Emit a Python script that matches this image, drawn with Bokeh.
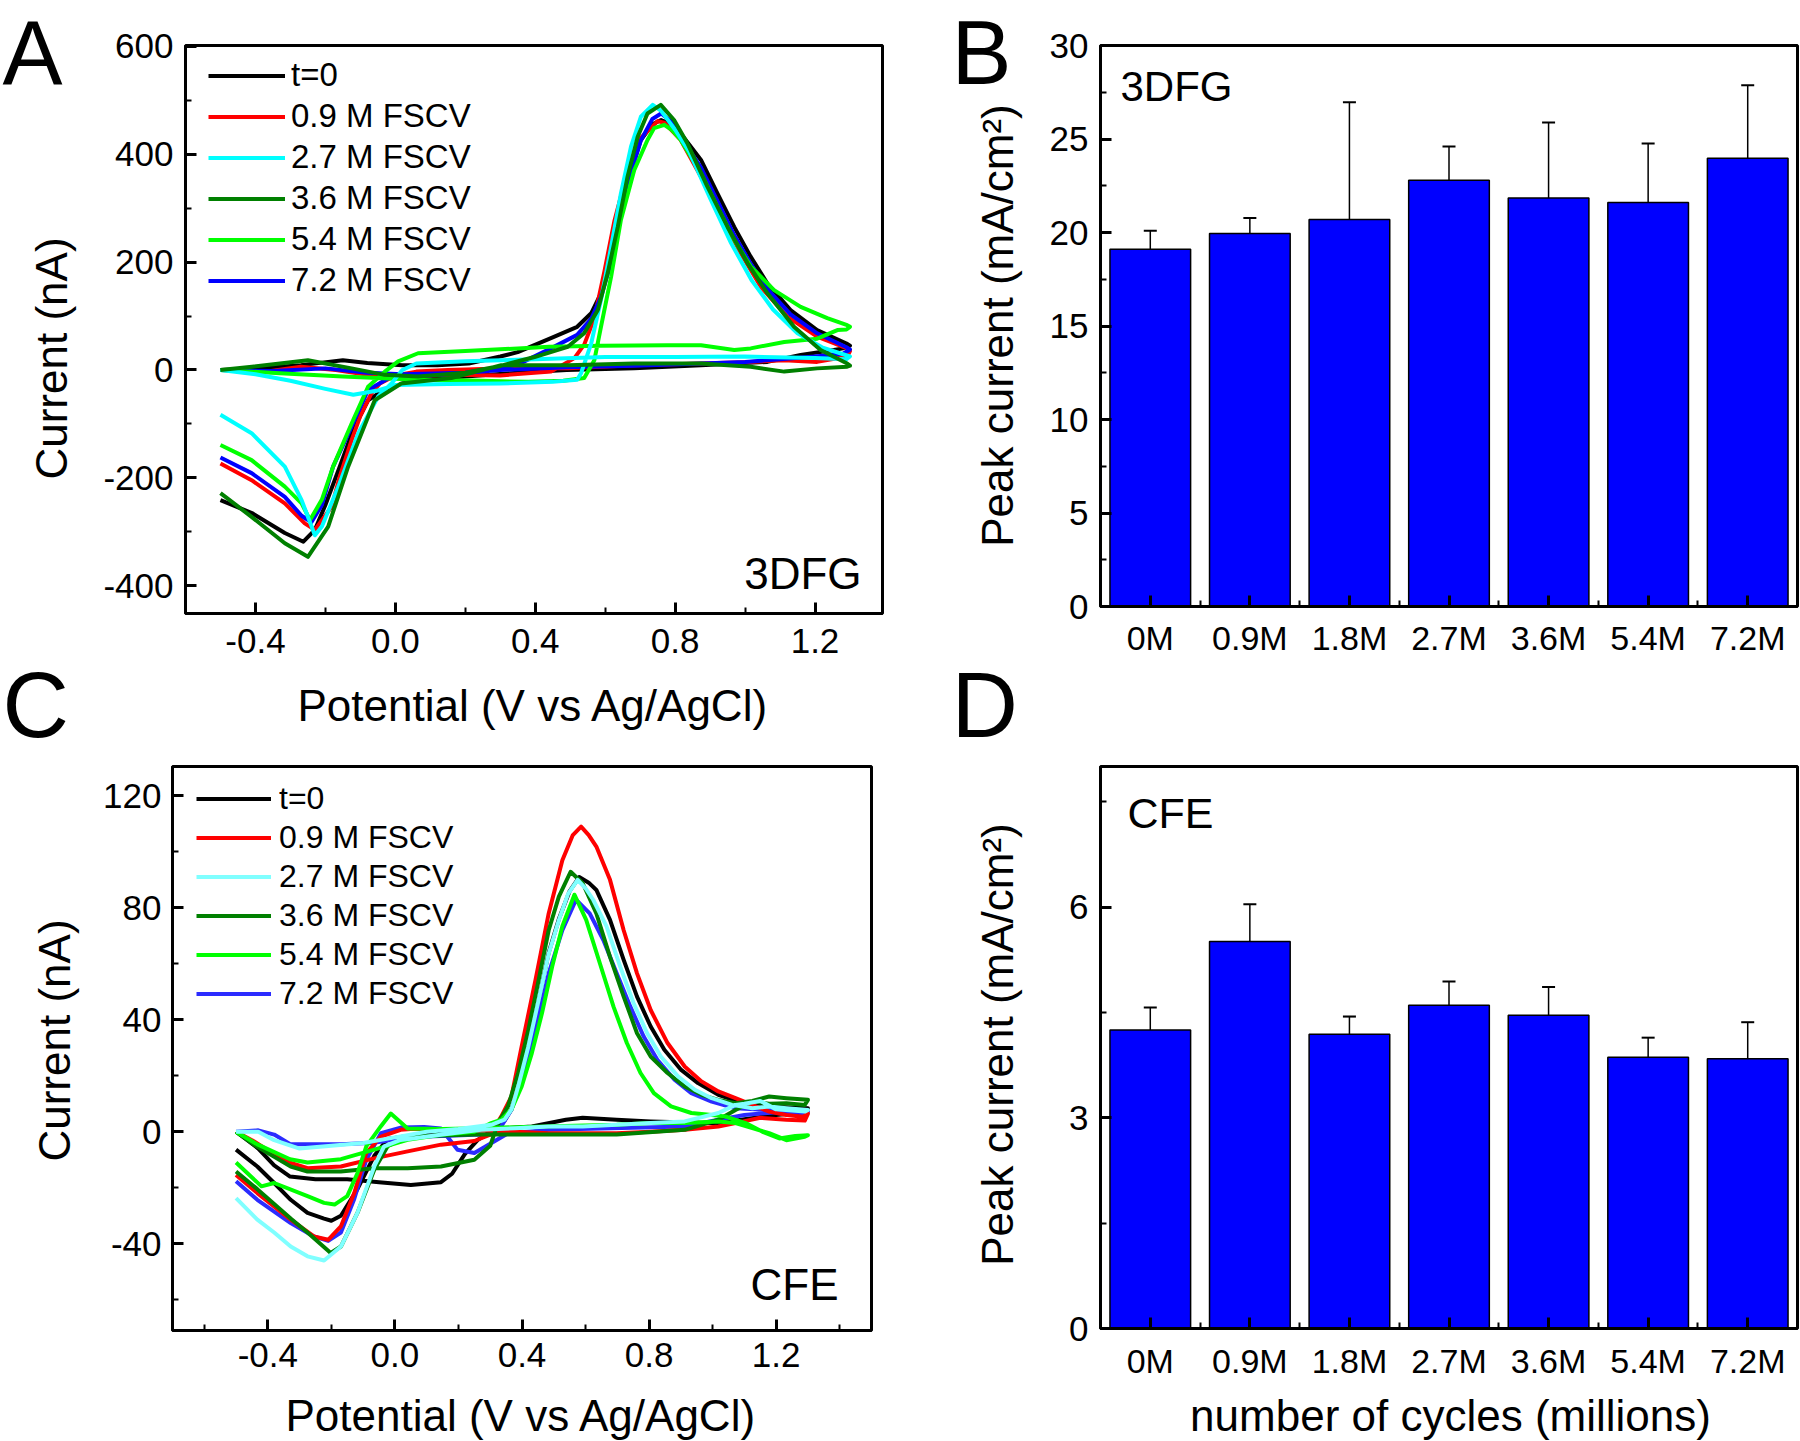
from math import pi
from bokeh.plotting import figure
from bokeh.models import (Range1d, FixedTicker, PrintfTickFormatter, Legend, LegendItem,
                          Label, Whisker, TeeHead, ColumnDataSource)
from bokeh.layouts import row, column
from bokeh.embed import file_html
from bokeh.resources import INLINE

FONT = "Liberation Sans"

# ------------------------------------------------------------------ data
series_labels = ["t=0", "0.9 M FSCV", "2.7 M FSCV", "3.6 M FSCV", "5.4 M FSCV", "7.2 M FSCV"]
a_colors = ["#000000", "#FF0000", "#00FFFF", "#008000", "#00FF00", "#0000FF"]
c_colors = ["#000000", "#FF0000", "#80FFFF", "#008000", "#00FF00", "#2B2BFF"]

# Panel A (3DFG) cyclic voltammograms: potential (V) / current (nA)
a_t0_v = [-0.50, -0.40, -0.27, -0.15, -0.08, 0.02, 0.12, 0.21, 0.30, 0.35, 0.445, 0.52, 0.56, 0.588, 0.617,
          0.645, 0.674, 0.702, 0.735, 0.76, 0.79, 0.816, 0.874, 0.921, 0.969, 1.016, 1.064, 1.13, 1.206, 1.29, 1.30,
          1.28, 1.254, 1.159, 1.064, 0.874, 0.683, 0.49, 0.35, 0.20, 0.08, 0.02, -0.04, -0.078, -0.12, -0.159,
          -0.20, -0.23, -0.263, -0.316, -0.41, -0.50]
a_t0_i = [0, 3, 9, 18, 13, 9, 9, 12, 25, 33, 59, 80, 105, 142, 204, 290, 370, 426, 455, 463, 455, 438, 389, 327,
          265, 210, 160, 111, 74, 49, 45,
          40, 37, 28, 15, 9, 3, 0, -5, -12, -18, -25, -40, -56, -110, -179, -250, -296, -318, -302, -265, -241]

a_09_v = [-0.50, -0.37, -0.27, -0.17, -0.08, 0.02, 0.16, 0.30, 0.445, 0.512, 0.54, 0.569, 0.598, 0.626, 0.664,
          0.702, 0.75, 0.769, 0.816, 0.874, 0.931, 0.988, 1.045, 1.121, 1.206, 1.292, 1.30,
          1.292, 1.206, 1.112, 1.016, 0.874, 0.683, 0.493, 0.30, 0.15, 0.06, 0.0, -0.044, -0.068, -0.10, -0.125,
          -0.16, -0.182, -0.23, -0.259, -0.316, -0.411, -0.50]
a_09_i = [0, -3, 6, 0, -9, -12, -9, -10, -3, 22, 47, 96, 183, 275, 368, 430, 461, 458, 426, 358, 284, 216, 154,
          99, 62, 40, 35,
          25, 15, 18, 15, 12, 9, 3, 3, 0, -3, -10, -25, -43, -85, -130, -200, -253, -296, -284, -247, -204, -173]

a_27_v = [-0.50, -0.40, -0.30, -0.20, -0.12, -0.05, 0.0, 0.15, 0.30, 0.45, 0.52, 0.531, 0.56, 0.588, 0.617,
          0.645, 0.674, 0.702, 0.736, 0.76, 0.80, 0.84, 0.90, 0.96, 1.02, 1.08, 1.15, 1.22, 1.30,
          1.29, 1.20, 1.0, 0.8, 0.6, 0.4, 0.2, 0.06, 0.02, -0.011, -0.049, -0.106, -0.163, -0.21, -0.23,
          -0.268, -0.316, -0.411, -0.50]
a_27_i = [0, -8, -20, -35, -46, -38, -28, -26, -25, -22, -18, -6, 49, 130, 228, 327, 414, 469, 491, 480, 445,
          405, 318, 235, 165, 112, 68, 42, 25,
          20, 22, 25, 24, 24, 20, 16, 12, 0, -25, -49, -117, -216, -290, -306, -241, -179, -117, -83]

a_36_v = [-0.50, -0.41, -0.25, -0.125, -0.03, 0.065, 0.20, 0.303, 0.398, 0.493, 0.54, 0.579, 0.607, 0.636,
          0.664, 0.693, 0.721, 0.759, 0.797, 0.835, 0.892, 0.95, 1.007, 1.064, 1.14, 1.216, 1.292, 1.30,
          1.292, 1.206, 1.112, 1.016, 0.874, 0.683, 0.493, 0.303, 0.16, 0.017, -0.059, -0.135, -0.192, -0.25,
          -0.316, -0.411, -0.50]
a_36_i = [0, 6, 18, 3, -9, -12, -5, 8, 24, 43, 68, 111, 179, 265, 358, 432, 475, 491, 463, 420, 340, 265, 198,
          142, 80, 37, 12, 8,
          6, 3, -3, 6, 12, 12, 9, 9, -15, -25, -56, -179, -290, -346, -321, -272, -228]

a_54_v = [-0.50, -0.33, -0.15, 0.065, 0.25, 0.38, 0.48, 0.54, 0.569, 0.588, 0.617, 0.645, 0.683, 0.721, 0.74,
          0.769, 0.79, 0.816, 0.874, 0.921, 0.969, 1.016, 1.083, 1.159, 1.235, 1.292, 1.30,
          1.29, 1.264, 1.206, 1.112, 1.016, 0.969, 0.874, 0.778, 0.588, 0.44, 0.35, 0.20, 0.065, 0.008, -0.03,
          -0.078, -0.125, -0.178, -0.21, -0.244, -0.268, -0.316, -0.411, -0.50]
a_54_i = [0, -6, -12, -18, -20, -22, -20, -15, 18, 80, 173, 278, 370, 426, 448, 454, 445, 426, 364, 302, 241,
          192, 148, 117, 96, 83, 80,
          75, 74, 58, 52, 40, 37, 46, 46, 45, 43, 40, 35, 31, 16, -3, -31, -99, -179, -240, -278, -247, -216,
          -167, -139]

a_72_v = [-0.50, -0.35, -0.20, -0.08, 0.02, 0.20, 0.35, 0.445, 0.52, 0.56, 0.588, 0.617, 0.645, 0.674, 0.702,
          0.735, 0.76, 0.79, 0.816, 0.874, 0.921, 0.969, 1.016, 1.064, 1.13, 1.206, 1.29, 1.30,
          1.28, 1.20, 1.10, 1.0, 0.874, 0.683, 0.49, 0.30, 0.15, 0.05, -0.011, -0.078, -0.125, -0.178, -0.21,
          -0.24, -0.268, -0.316, -0.411, -0.50]
a_72_i = [0, -2, 3, -5, -8, -5, 10, 40, 65, 95, 135, 200, 285, 365, 425, 465, 475, 460, 432, 375, 313, 250,
          197, 150, 103, 68, 42, 38,
          30, 25, 20, 15, 12, 8, 5, 0, -8, -12, -12, -37, -105, -179, -250, -282, -270, -235, -191, -162]

# Panel C (CFE) cyclic voltammograms
c_t0_v = [-0.50, -0.43, -0.38, -0.33, -0.25, -0.15, -0.05, 0.05, 0.145, 0.18, 0.22, 0.26, 0.30, 0.345, 0.367,
          0.388, 0.42, 0.452, 0.484, 0.516, 0.55, 0.58, 0.61, 0.634, 0.677, 0.72, 0.762, 0.805, 0.848, 0.901,
          0.954, 1.018, 1.082, 1.178, 1.30,
          1.29, 1.20, 1.10, 1.018, 0.805, 0.698, 0.591, 0.538, 0.431, 0.27, 0.15, 0.04, -0.023, -0.065, -0.118,
          -0.17, -0.20, -0.223, -0.275, -0.328, -0.38, -0.433, -0.50]
c_t0_i = [0, -6, -12, -16, -17, -17, -18, -19, -18, -15, -8, -3, 0, 4, 8, 16, 30.5, 47, 64, 76, 86, 91, 89,
          86.4, 75.7, 61.4, 48.3, 37.6, 29.3, 22.1, 17.4, 13.2, 10.8, 9, 8.4,
          7, 6, 4.5, 3, 3.7, 4.3, 5, 4.3, 1.9, 0.7, 0, -1.5, -2.6, -8.6, -20.5, -30, -31.8, -31, -29, -24.3,
          -18.3, -12.4, -6.4]

c_09_v = [-0.50, -0.45, -0.38, -0.33, -0.275, -0.17, -0.065, 0.04, 0.145, 0.25, 0.30, 0.335, 0.367, 0.399,
          0.442, 0.484, 0.527, 0.56, 0.586, 0.61, 0.634, 0.677, 0.72, 0.762, 0.805, 0.858, 0.912, 0.965, 1.018,
          1.072, 1.125, 1.178, 1.232, 1.285, 1.30,
          1.29, 1.232, 1.15, 1.072, 1.018, 0.912, 0.805, 0.698, 0.591, 0.484, 0.378, 0.25, 0.15, 0.05, 0.018,
          -0.044, -0.09, -0.128, -0.17, -0.21, -0.255, -0.328, -0.433, -0.50]
c_09_i = [0, -3, -8, -11, -13, -12.4, -9.5, -7, -4.6, -3.3, -1, 5.5, 12.6, 30.5, 54, 78, 97, 106, 109, 106,
          101.9, 90, 72, 56.6, 43.5, 31.7, 23.3, 18, 14.4, 12, 9.6, 7.2, 6, 5.4, 6.5,
          4, 4.3, 5, 3.1, 1.9, 0.7, 0, -0.5, -0.5, -0.5, 0, 0.5, 1, 1, 0.7, -1.7, -7.6, -21.9, -33.8, -38.6,
          -37.4, -31.4, -21.9, -15.4]

c_27_v = [-0.50, -0.43, -0.38, -0.30, -0.20, -0.10, 0.0, 0.10, 0.20, 0.303, 0.345, 0.367, 0.388, 0.42, 0.452,
          0.484, 0.516, 0.545, 0.575, 0.60, 0.624, 0.666, 0.709, 0.751, 0.794, 0.837, 0.891, 0.944, 0.997,
          1.061, 1.125, 1.178, 1.232, 1.30,
          1.29, 1.20, 1.15, 1.10, 1.072, 1.018, 0.912, 0.805, 0.698, 0.591, 0.484, 0.378, 0.271, 0.15, 0.05,
          0.018, -0.034, -0.065, -0.118, -0.17, -0.223, -0.275, -0.328, -0.38, -0.433, -0.50]
c_27_i = [0, 0, -3, -6, -5, -4, -2, 0, 1, 2.5, 4.3, 8, 16.2, 30.5, 46.9, 63.6, 75.6, 85, 90, 87, 82.9, 73.4,
          59, 46, 35.2, 26.9, 19.8, 15, 12, 9.6, 8.4, 9, 8.4, 7.8,
          7.2, 8, 11, 10, 9.6, 6.7, 3.7, 3.1, 2.5, 1.9, 1.9, 1.3, 0.7, -1, -2.5, -2.9, -5.2, -12.4, -29, -41,
          -46, -44.5, -41, -36, -31.4, -23.7]

c_36_v = [-0.50, -0.433, -0.328, -0.275, -0.17, -0.065, 0.04, 0.145, 0.25, 0.30, 0.324, 0.356, 0.388, 0.42,
          0.452, 0.484, 0.516, 0.553, 0.591, 0.634, 0.677, 0.72, 0.762, 0.805, 0.858, 0.912, 0.965, 1.018,
          1.072, 1.125, 1.178, 1.232, 1.30,
          1.29, 1.232, 1.178, 1.125, 1.072, 1.018, 0.912, 0.698, 0.484, 0.25, 0.10, 0.04, -0.023, -0.065,
          -0.118, -0.17, -0.202, -0.275, -0.328, -0.433, -0.50]
c_36_i = [0, -5.4, -12.4, -14.2, -14.2, -13, -13, -12.4, -10, -5, 3, 9.1, 21, 36.4, 54, 72, 84, 92.9, 88.8,
          78, 62.5, 48.3, 35.2, 26.9, 21, 16.2, 13.2, 11.4, 10.2, 11, 12.6, 12, 11.4,
          9.6, 10.2, 10, 10.8, 7.8, 4.3, 0.7, -1, -1, -1, -1.5, -1.7, -5.2, -13.6, -29, -41, -43.3, -36, -31,
          -20.5, -14.2]

c_54_v = [-0.50, -0.433, -0.33, -0.275, -0.17, -0.065, 0.04, 0.145, 0.25, 0.303, 0.335, 0.367, 0.399, 0.431,
          0.463, 0.495, 0.527, 0.565, 0.602, 0.645, 0.688, 0.73, 0.773, 0.815, 0.869, 0.933, 0.997, 1.039,
          1.104, 1.157, 1.21, 1.26, 1.30,
          1.29, 1.232, 1.178, 1.125, 1.072, 1.018, 0.912, 0.805, 0.698, 0.50, 0.27, 0.15, 0.04, -0.013, -0.044,
          -0.09, -0.118, -0.15, -0.19, -0.223, -0.275, -0.38, -0.42, -0.50]
c_54_i = [0, -4.5, -9.8, -11, -9.8, -6.4, -2.9, -1.1, 0, 3.1, 4.3, 8, 16.2, 28.1, 42.4, 59, 73.4, 84.7, 75.7,
          60.2, 44.7, 31.7, 21, 13.8, 9.1, 6.7, 6, 5.5, 3.1, 0, -2.4, -1.5, -1.2,
          -1.8, -3, -0.5, 1.3, 3.1, 3.7, 3.1, 3.1, 2.5, 2, 1.3, 1, 1.2, 6.5, 2, -5.2, -14.8, -23, -26, -25.4,
          -23, -18.3, -19.5, -11]

c_72_v = [-0.50, -0.43, -0.38, -0.328, -0.17, -0.065, 0.04, 0.25, 0.30, 0.335, 0.367, 0.399, 0.442, 0.484,
          0.527, 0.57, 0.613, 0.656, 0.698, 0.741, 0.783, 0.826, 0.88, 0.933, 0.997, 1.072, 1.178, 1.30,
          1.29, 1.20, 1.10, 1.018, 0.912, 0.484, 0.355, 0.30, 0.25, 0.197, 0.145, 0.092, 0.018, -0.044, -0.09,
          -0.128, -0.17, -0.21, -0.255, -0.328, -0.433, -0.50]
c_72_i = [0, 0.5, -1, -4.5, -4.5, -3.9, -2, -1.1, -1, 2, 8, 18.6, 36.4, 56.6, 72, 82.9, 78, 68.5, 56.6, 44.7,
          34, 25.7, 18.6, 13.8, 10.8, 8.4, 7.8, 7.2,
          6.7, 7, 6, 4.3, 1.9, 0.7, -0.6, -4.3, -7.6, -6.4, 1.2, 1.7, 1.5, -0.5, -10, -24, -36, -39, -37.4,
          -32.6, -24.3, -17.7]

# Bar panels (peak current, mA/cm^2)
cycles = ["0M", "0.9M", "1.8M", "2.7M", "3.6M", "5.4M", "7.2M"]
b_mean = [19.1, 19.95, 20.7, 22.8, 21.85, 21.6, 23.97]
b_err = [1.0, 0.83, 6.27, 1.8, 4.03, 3.16, 3.91]
d_mean = [4.25, 5.51, 4.19, 4.60, 4.46, 3.86, 3.84]
d_err = [0.32, 0.53, 0.25, 0.34, 0.40, 0.28, 0.52]

# ticks
a_xticks = [-0.4, 0.0, 0.4, 0.8, 1.2]
a_xminor = [-0.6, -0.2, 0.2, 0.6, 1.0]
a_yticks = [-400, -200, 0, 200, 400, 600]
a_yminor = [-300, -100, 100, 300, 500]
c_xticks = [-0.4, 0.0, 0.4, 0.8, 1.2]
c_xminor = [-0.6, -0.2, 0.2, 0.6, 1.0, 1.4]
c_yticks = [-40, 0, 40, 80, 120]
c_yminor = [-60, -20, 20, 60, 100]
b_yticks = [0, 5, 10, 15, 20, 25, 30]
b_yminor = [2.5, 7.5, 12.5, 17.5, 22.5, 27.5]
d_yticks = [0, 3, 6]
d_yminor = [1.5, 4.5, 7.5]

# ------------------------------------------------------------------ helpers

def no_align(p):
    if "frame_align" in p.properties():
        p.frame_align = False


def make_fig(w, h, bl, br, bt, bb, xr, yr):
    p = figure(width=w, height=h, x_range=Range1d(*xr), y_range=Range1d(*yr),
               min_border_left=bl, min_border_right=br, min_border_top=bt, min_border_bottom=bb,
               output_backend="svg", toolbar_location=None)
    no_align(p)
    p.background_fill_color = "white"
    p.border_fill_color = "white"
    p.xgrid.visible = False
    p.ygrid.visible = False
    p.outline_line_color = "black"
    p.outline_line_width = 3
    p.outline_line_alpha = 1.0
    for ax in list(p.xaxis) + list(p.yaxis):
        ax.axis_line_width = 3
        ax.axis_line_color = "black"
        ax.major_tick_line_width = 3
        ax.minor_tick_line_width = 2
        ax.major_tick_in = 11
        ax.major_tick_out = 0
        ax.minor_tick_in = 6
        ax.minor_tick_out = 0
        ax.major_label_text_font = FONT
        ax.major_label_text_font_size = "35px"
        ax.major_label_text_color = "black"
    return p


def make_strip(x0, x1, y0, y1):
    # blank canvas whose data coordinates equal page pixels (y grows downward)
    p = figure(width=x1 - x0, height=y1 - y0, x_range=Range1d(x0, x1), y_range=Range1d(y1, y0),
               min_border=0, min_border_left=0, min_border_right=0, min_border_top=0, min_border_bottom=0,
               x_axis_location=None, y_axis_location=None, output_backend="svg", toolbar_location=None)
    no_align(p)
    p.outline_line_color = None
    p.xgrid.visible = False
    p.ygrid.visible = False
    p.background_fill_color = "white"
    p.border_fill_color = "white"
    return p


def put(p, x, y, txt, size, align="left", angle=0.0):
    # (x, y) is the centre line of the text (middle baseline)
    p.add_layout(Label(x=x, y=y, text=txt, text_font=FONT, text_font_size=size, angle=angle,
                       text_align=align, text_baseline="middle", text_color="black"))


def mapper(frame, xr, yr):
    left, top, right, bottom = frame

    def f(rx, ry):
        x = xr[0] + (rx - left) / (right - left) * (xr[1] - xr[0])
        y = yr[1] - (ry - top) / (bottom - top) * (yr[1] - yr[0])
        return x, y
    return f


def add_text(p, m, rx, ry, txt, size, align="left"):
    x, y = m(rx, ry)
    put(p, x, y, txt, size, align)


def cv_panel(p, curves, colors, order, lw, legend_loc, glyph_w, row_h, font_px, standoff):
    rends = [None] * len(curves)
    for k in order:
        v, i = curves[k]
        rends[k] = p.line(v, i, line_color=colors[k], line_width=lw, line_join="round")
    items = [LegendItem(label=series_labels[k], renderers=[rends[k]]) for k in range(len(curves))]
    leg = Legend(items=items, location=legend_loc, glyph_width=glyph_w, glyph_height=row_h,
                 label_height=row_h, spacing=0, padding=0, margin=0,
                 label_text_font=FONT, label_text_font_size=font_px, label_text_color="black",
                 label_standoff=standoff, border_line_alpha=0, background_fill_alpha=0)
    p.add_layout(leg)


def bar_panel(p, means, errs):
    idx = list(range(len(cycles)))
    p.vbar(x=idx, top=means, width=0.81, bottom=0, fill_color="#0000FF", line_color="black", line_width=1.5)
    src = ColumnDataSource(dict(x=idx, upper=[m + e for m, e in zip(means, errs)],
                                lower=[m - e for m, e in zip(means, errs)]))
    p.add_layout(Whisker(source=src, base="x", upper="upper", lower="lower", line_color="black",
                         line_width=1.5,
                         upper_head=TeeHead(size=13, line_width=2, line_color="black"),
                         lower_head=TeeHead(size=13, line_width=2, line_color="black")))
    p.xaxis.ticker = FixedTicker(ticks=idx, minor_ticks=[k + 0.5 for k in idx[:-1]])
    p.xaxis.major_label_overrides = {k: c for k, c in enumerate(cycles)}
    p.xaxis.major_label_text_font_size = "34px"


# ------------------------------------------------------------------ layout geometry (page pixels)
ROW1_BOT = 672
MID_BOT = 757
ROW2_BOT = 1385
PAGE_W, PAGE_H = 1800, 1441

# ------------------------------------------------------------------ panel A
A_frame = (184, 45, 882, 613)
A_xr, A_yr = (-0.6, 1.393), (-451, 601)
pA = make_fig(845, ROW1_BOT, 84, 63, 45, ROW1_BOT - 613, A_xr, A_yr)
mA = mapper(A_frame, A_xr, A_yr)
pA.xaxis.ticker = FixedTicker(ticks=a_xticks, minor_ticks=a_xminor)
pA.xaxis.formatter = PrintfTickFormatter(format="%.1f")
pA.yaxis.ticker = FixedTicker(ticks=a_yticks, minor_ticks=a_yminor)
pA.yaxis.formatter = PrintfTickFormatter(format="%d")
pA.xaxis.major_label_standoff = 15
pA.yaxis.major_label_standoff = 12
a_curves = [(a_t0_v, a_t0_i), (a_09_v, a_09_i), (a_27_v, a_27_i), (a_36_v, a_36_i), (a_54_v, a_54_i),
            (a_72_v, a_72_i)]
cv_panel(pA, a_curves, a_colors, [0, 1, 5, 4, 2, 3], 4, (23, 568 - 9.5 - 246), 77, 41, "33px", 6)
add_text(pA, mA, 861, 573, "3DFG", "44px", "right")

# ------------------------------------------------------------------ panel B
B_frame = (1100, 45, 1797, 606)
B_xr, B_yr = (-0.5, 6.5), (0, 30.001)
pB = make_fig(760, ROW1_BOT, 60, 3, 45, ROW1_BOT - 606, B_xr, B_yr)
mB = mapper(B_frame, B_xr, B_yr)
bar_panel(pB, b_mean, b_err)
pB.yaxis.ticker = FixedTicker(ticks=b_yticks, minor_ticks=b_yminor)
pB.xaxis.major_label_standoff = 12
pB.yaxis.major_label_standoff = 12
add_text(pB, mB, 1120, 86, "3DFG", "42px")

# ------------------------------------------------------------------ panel C
C_frame = (171, 766, 871, 1330)
C_xr, C_yr = (-0.7, 1.5), (-71, 130.5)
pC = make_fig(845, ROW2_BOT - MID_BOT, 71, 74, 766 - MID_BOT, ROW2_BOT - 1330, C_xr, C_yr)
mC = mapper(C_frame, C_xr, C_yr)
pC.xaxis.ticker = FixedTicker(ticks=c_xticks, minor_ticks=c_xminor)
pC.xaxis.formatter = PrintfTickFormatter(format="%.1f")
pC.yaxis.ticker = FixedTicker(ticks=c_yticks, minor_ticks=c_yminor)
pC.yaxis.formatter = PrintfTickFormatter(format="%d")
pC.xaxis.major_label_standoff = 12
pC.yaxis.major_label_standoff = 11
c_curves = [(c_t0_v, c_t0_i), (c_09_v, c_09_i), (c_27_v, c_27_i), (c_36_v, c_36_i), (c_54_v, c_54_i),
            (c_72_v, c_72_i)]
cv_panel(pC, c_curves, c_colors, [0, 5, 1, 3, 4, 2], 4, (24, 564 - 12.5 - 234), 75, 39, "32px", 8)
add_text(pC, mC, 838, 1284, "CFE", "44px", "right")

# ------------------------------------------------------------------ panel D
D_frame = (1100, 766, 1797, 1328)
D_xr, D_yr = (-0.5, 6.5), (0, 8)
pD = make_fig(760, ROW2_BOT - MID_BOT, 60, 3, 766 - MID_BOT, ROW2_BOT - 1328, D_xr, D_yr)
mD = mapper(D_frame, D_xr, D_yr)
bar_panel(pD, d_mean, d_err)
pD.yaxis.ticker = FixedTicker(ticks=d_yticks, minor_ticks=d_yminor)
pD.xaxis.major_label_standoff = 13
pD.yaxis.major_label_standoff = 12
add_text(pD, mD, 1127, 812, "CFE", "43px")

# ------------------------------------------------------------------ text strips (panel letters, axis titles)
sA = make_strip(0, 100, 0, MID_BOT)
put(sA, 2, 52, "A", "90px")
put(sA, 51, 358, "Current (nA)", "44px", "center", pi / 2)
put(sA, 2, 704, "C", "92px")

sB = make_strip(945, 1040, 0, MID_BOT)
put(sB, 951, 52, "B", "90px")
put(sB, 997, 325, "Peak current (mA/cm\u00b2)", "44px", "center", pi / 2)
put(sB, 951, 704, "D", "92px")

sMidA = make_strip(100, 945, ROW1_BOT, MID_BOT)
put(sMidA, 533, 705, "Potential (V vs Ag/AgCl)", "44px", "center")
sMidB = make_strip(1040, PAGE_W, ROW1_BOT, MID_BOT)

sC = make_strip(0, 100, MID_BOT, PAGE_H)
put(sC, 54, 1040, "Current (nA)", "44px", "center", pi / 2)

sD = make_strip(945, 1040, MID_BOT, PAGE_H)
put(sD, 997, 1044, "Peak current (mA/cm\u00b2)", "44px", "center", pi / 2)

sBotC = make_strip(100, 945, ROW2_BOT, PAGE_H)
put(sBotC, 521, 1415, "Potential (V vs Ag/AgCl)", "44px", "center")
sBotD = make_strip(1040, PAGE_W, ROW2_BOT, PAGE_H)
put(sBotD, 1450, 1415, "number of cycles (millions)", "44px", "center")

row1 = row(sA, column(pA, sMidA, spacing=0), sB, column(pB, sMidB, spacing=0), spacing=0)
row2 = row(sC, column(pC, sBotC, spacing=0), sD, column(pD, sBotD, spacing=0), spacing=0)
layout = column(row1, row2, spacing=0)
open("out.html", "w").write(file_html(layout, INLINE))
